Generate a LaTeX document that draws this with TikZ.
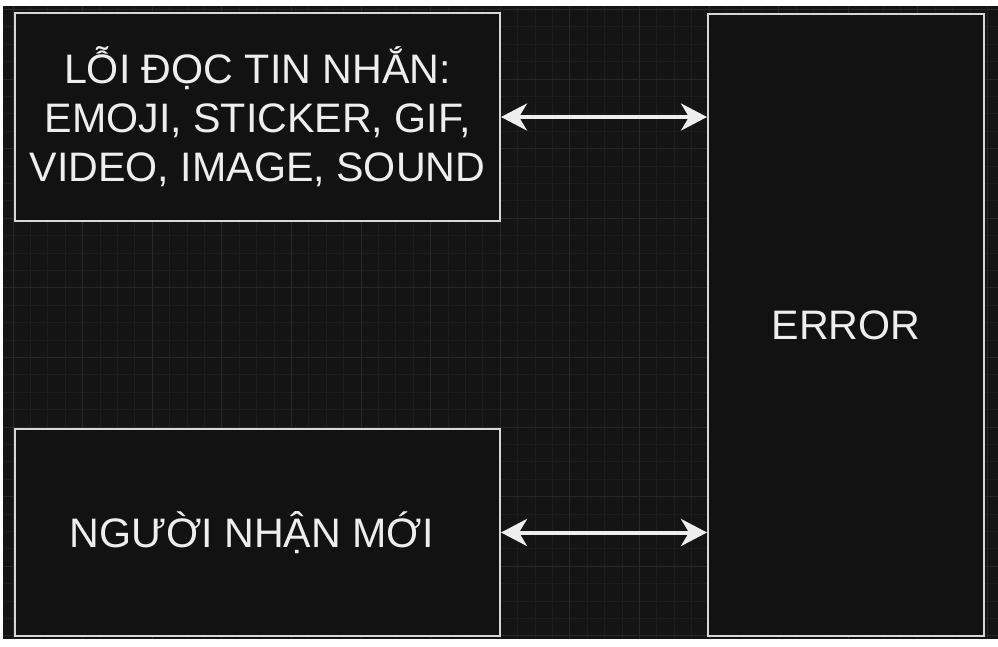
\documentclass[tikz,border=0pt]{standalone}
\usepackage{fontspec}
\setmainfont{Liberation Sans}
\usepackage{xcolor}
\usepackage{tikz}
\usetikzlibrary{arrows.meta, positioning, calc}
\definecolor{canvascolor}{RGB}{20, 20, 20}
\definecolor{gridminor}{RGB}{29, 29, 29}
\definecolor{gridmajor}{RGB}{40, 40, 40}
\definecolor{boxfill}{RGB}{18, 18, 18}
\definecolor{edgecolor}{RGB}{215, 215, 215}
\definecolor{labelcolor}{RGB}{238, 238, 238}

\begin{document}
\begin{tikzpicture}[
    x=1pt, y=-1pt,
    box/.style={draw=edgecolor, line width=2pt, fill=boxfill, align=center, inner sep=0pt,
        text=labelcolor, font=\fontsize{41.2}{49}\selectfont},
    arrow/.style={{Stealth[length=26pt, width=27pt, inset=8pt]}-{Stealth[length=26pt, width=27pt, inset=8pt]},
        line width=4pt, draw=labelcolor}
]
    \useasboundingbox (0,0) rectangle (998,646);
    \fill[white] (0,0) rectangle (998,646);
    \fill[canvascolor] (3,6) rectangle (998,639);

    % grid
    \begin{scope}
        \clip (3,6) rectangle (998,639);
        \foreach \i in {0,...,56}
            \draw[gridminor, line width=1pt] (13+17.4*\i,6) -- (13+17.4*\i,639);
        \foreach \j in {0,...,36}
            \draw[gridminor, line width=1pt] (3,9.4+17.4*\j) -- (998,9.4+17.4*\j);
        \foreach \i in {0,...,14}
            \draw[gridmajor, line width=1pt] (13+69.6*\i,6) -- (13+69.6*\i,639);
        \foreach \j in {0,...,9}
            \draw[gridmajor, line width=1pt] (3,9.4+69.6*\j) -- (998,9.4+69.6*\j);
    \end{scope}

    \node[box, minimum width=485pt, minimum height=208pt] (msgerr) at (257.5,117)
        {LỖI ĐỌC TIN NHẮN:\\EMOJI, STICKER, GIF,\\VIDEO, IMAGE, SOUND};
    \node[box, minimum width=485pt, minimum height=207pt] (newuser) at (257.5,532.5)
        {NGƯỜI NHẬN MỚI\hspace{12pt}};
    \node[box, minimum width=276pt, minimum height=622pt] (error) at (846,325) {ERROR};

    \draw[arrow] (msgerr.east) -- (msgerr.east -| error.west);
    \draw[arrow] (newuser.east) -- (newuser.east -| error.west);
\end{tikzpicture}
\end{document}
